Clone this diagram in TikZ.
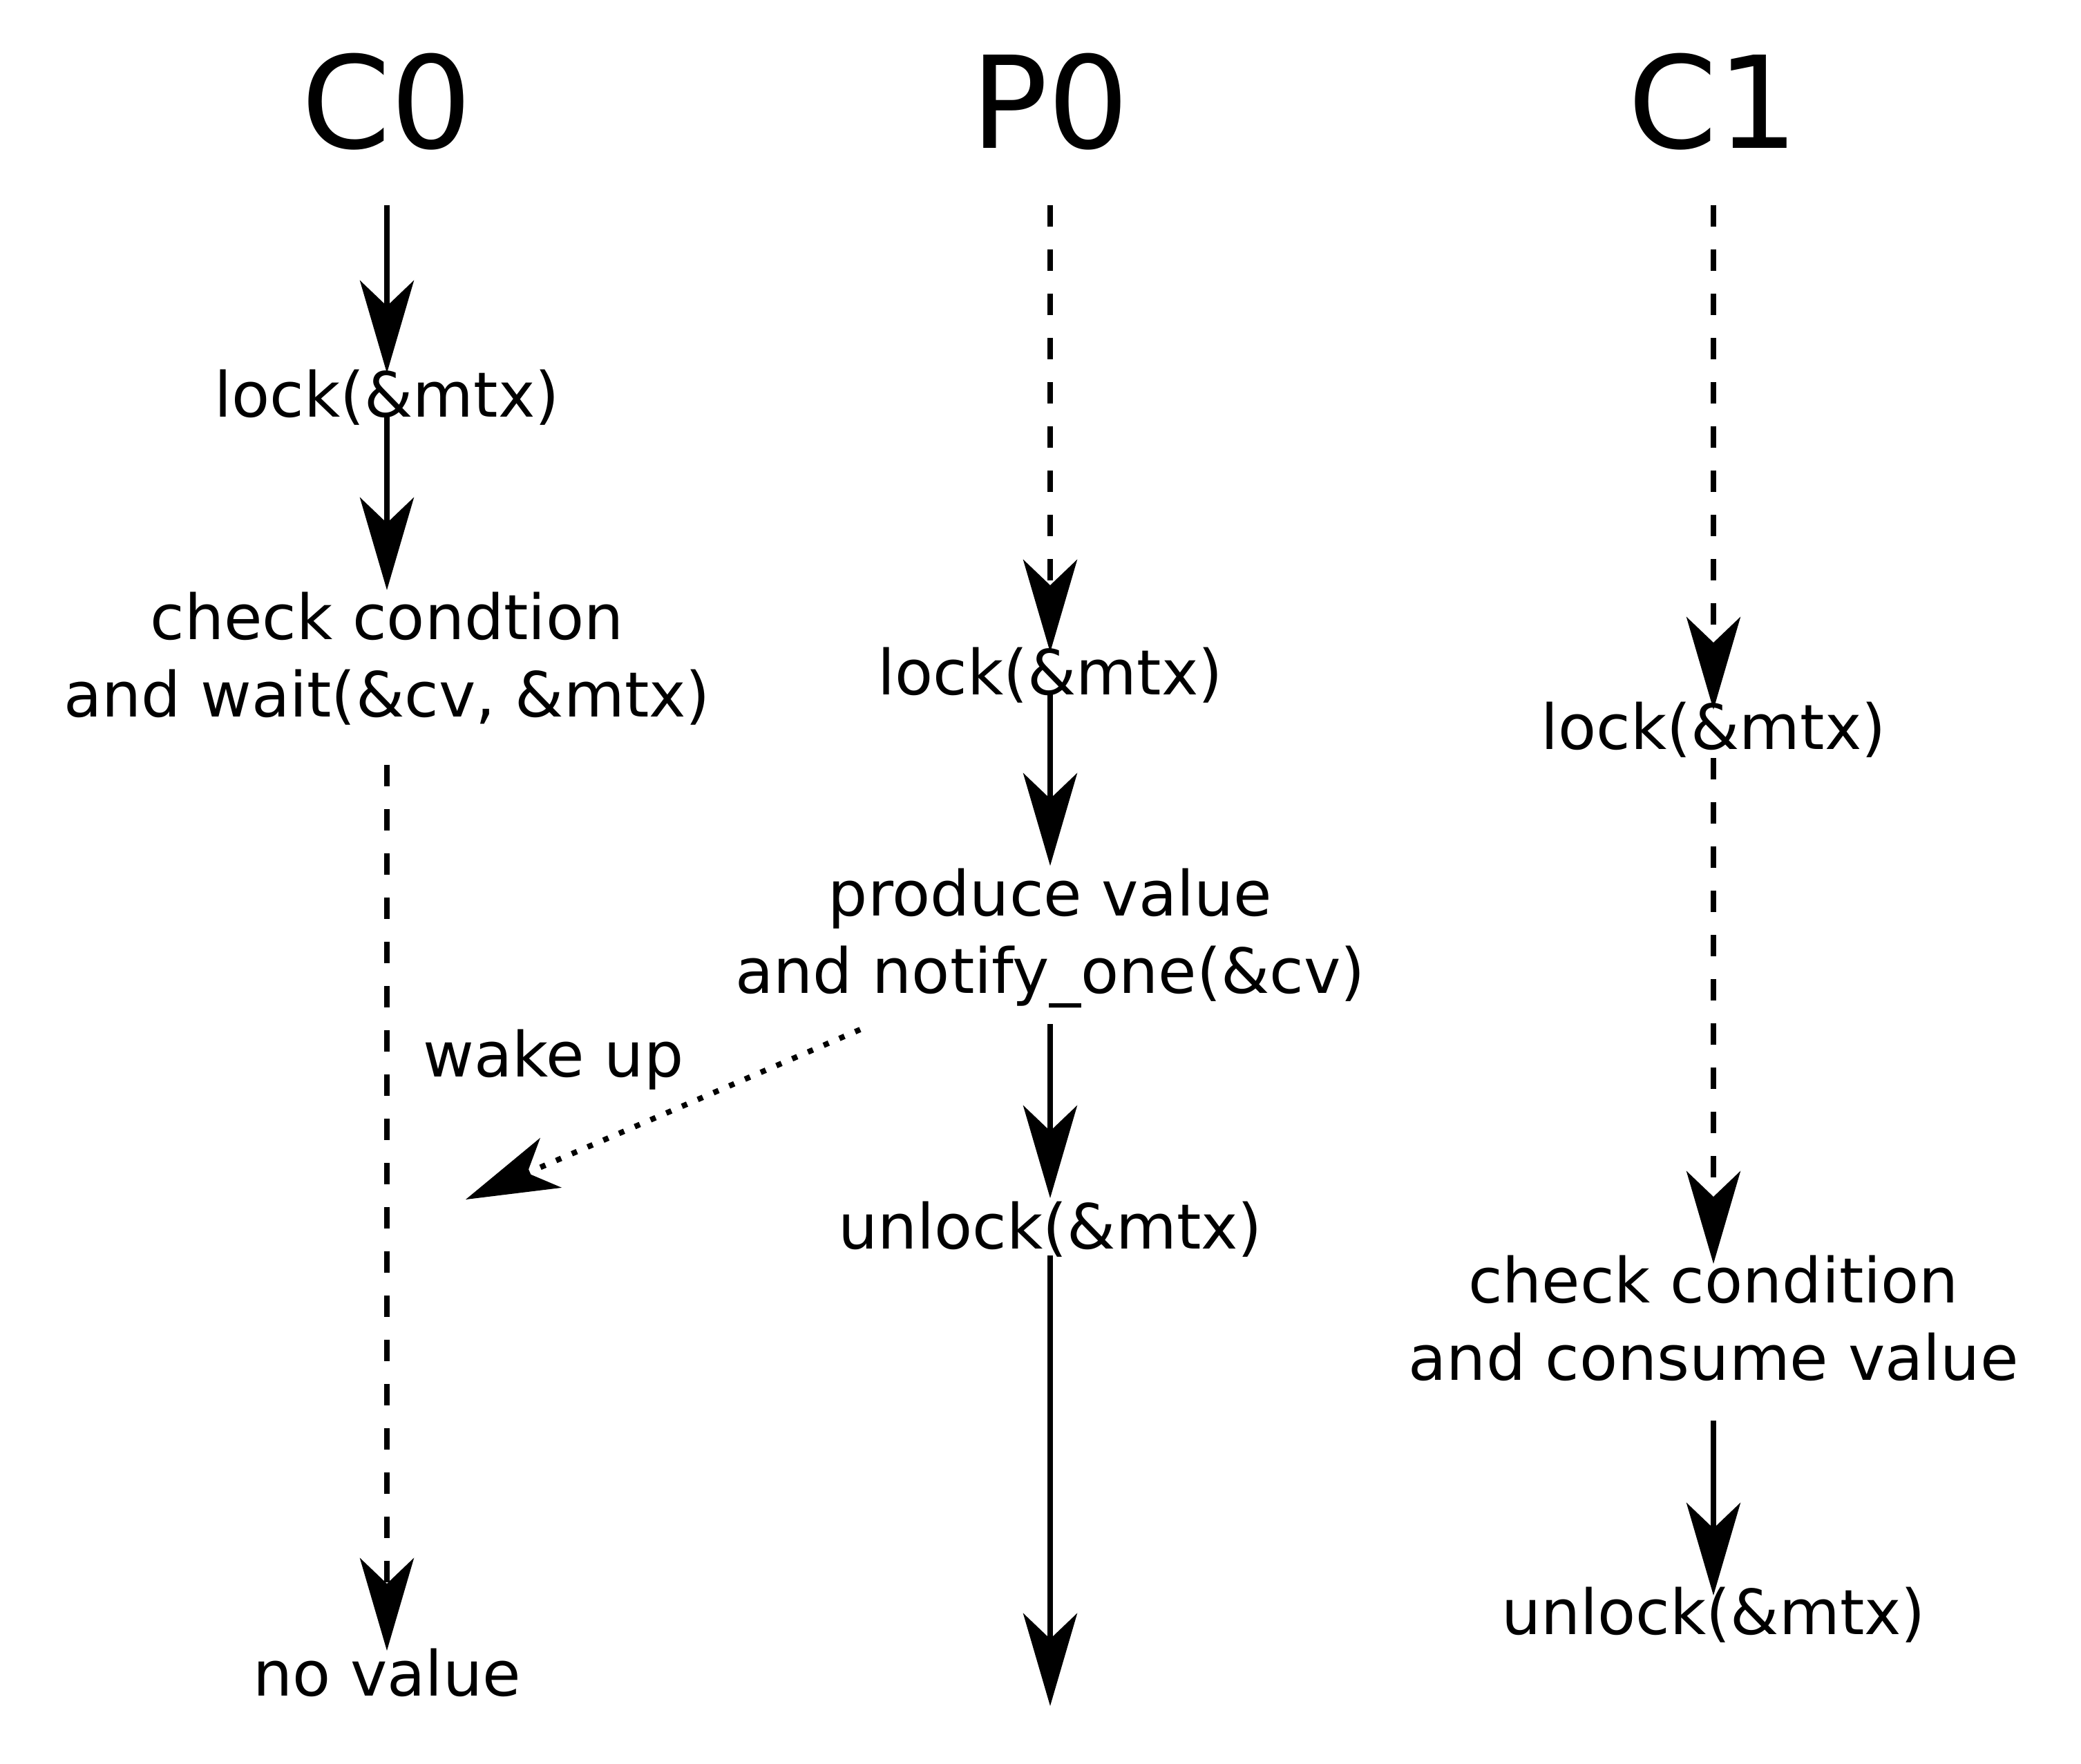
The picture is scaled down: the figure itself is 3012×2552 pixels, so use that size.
\documentclass[tikz,border=0pt]{standalone}
\usepackage{fontspec}
\setmainfont{DejaVu Sans}
\usetikzlibrary{arrows.meta}
\begin{document}
\begin{tikzpicture}[x=0.25pt,y=-0.25pt,
  every node/.style={inner sep=0pt,outer sep=0pt},
  lbl/.style={anchor=base,font=\fontsize{22.55}{28.2}\selectfont},
  ttl/.style={anchor=base,font=\fontsize{46.3}{55}\selectfont},
  tip/.style={-{Stealth[length=33.5pt,width=19.5pt,inset=9.25pt]}},
  flow/.style={tip,line width=2pt},
  wait/.style={flow,dash pattern=on 7.75pt off 8.25pt},
  signal/.style={flow,dash pattern=on 2pt off 4.2pt}]
\useasboundingbox (0,0) rectangle (3012,2552);
% titles
\node[ttl] (c0t) at (560,214) {C0};
\node[ttl] (p0t) at (1520,214) {P0};
\node[ttl] (c1t) at (2480,214) {C1};
% C0 column
\node[lbl] (c0l) at (560,603) {lock(\&mtx)};
\node[lbl] (c0w) at (560,925) {\begin{tabular}[t]{@{}c@{}}check condtion\\and wait(\&cv, \&mtx)\end{tabular}};
\node[lbl] (c0n) at (560,2454) {no value};
% P0 column
\node[lbl] (p0l) at (1520,1005) {lock(\&mtx)};
\node[lbl] (p0p) at (1520,1325) {\begin{tabular}[t]{@{}c@{}}produce value\\and notify\_one(\&cv)\end{tabular}};
\node[lbl] (p0u) at (1520,1807) {unlock(\&mtx)};
\coordinate (p0end) at (1520,2469);
% C1 column
\node[lbl] (c1l) at (2480,1084) {lock(\&mtx)};
\node[lbl] (c1c) at (2480,1885) {\begin{tabular}[t]{@{}c@{}}check condition\\and consume value\end{tabular}};
\node[lbl] (c1u) at (2480,2365) {unlock(\&mtx)};
% wake up
\node[lbl] (wake) at (801,1558) {wake up};
\coordinate (wakefrom) at (1245,1490);
\coordinate (waketo) at (674,1736);
% C0 connectors
\draw[flow] ([yshift=-20.75pt]c0t.base) -- ([yshift=15.75pt]c0l.base);
\draw[flow] (c0l.base) -- ([yshift=17.75pt]c0w.base);
\draw[wait] ([yshift=-45.5pt]c0w.base) -- ([yshift=16.25pt]c0n.base);
% P0 connectors
\draw[wait] ([yshift=-20.75pt]p0t.base) -- ([yshift=15.25pt]p0l.base);
\draw[flow] (p0l.base) -- ([yshift=18pt]p0p.base);
\draw[flow] ([yshift=-39.25pt]p0p.base) -- ([yshift=18.25pt]p0u.base);
\draw[flow] ([yshift=-2.5pt]p0u.base) -- (p0end);
% C1 connectors
\draw[wait] ([yshift=-20.75pt]c1t.base) -- ([yshift=14.25pt]c1l.base);
\draw[wait] ([yshift=-3.25pt]c1l.base) -- ([yshift=14pt]c1c.base);
\draw[flow] ([yshift=-42.75pt]c1c.base) -- ([yshift=14pt]c1u.base);
% signal
\draw[signal] (wakefrom) -- (waketo);
\end{tikzpicture}
\end{document}
